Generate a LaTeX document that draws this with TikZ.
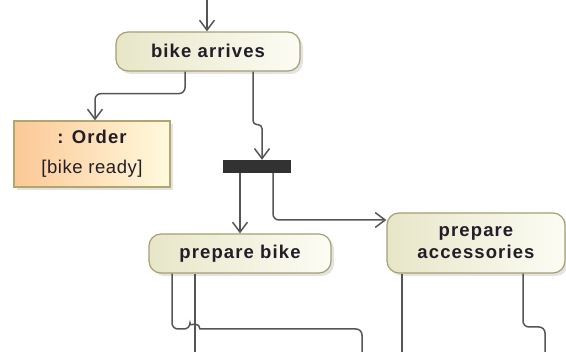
\documentclass[tikz,border=0pt]{standalone}
\usepackage{fontspec}
\setmainfont{Liberation Sans}
\newfontfamily\actfont[LetterSpace=6]{Liberation Sans}
\newfontfamily\guardfont[LetterSpace=3]{Liberation Sans}
\usetikzlibrary{arrows.meta,shadows}

\definecolor{actleft}{RGB}{232,230,200}
\definecolor{actright}{RGB}{252,252,244}
\definecolor{actborder}{RGB}{164,160,112}
\definecolor{objleft}{RGB}{252,200,150}
\definecolor{objright}{RGB}{255,250,222}
\definecolor{objborder}{RGB}{176,166,110}
\definecolor{labeltext}{RGB}{34,30,40}
\definecolor{flowline}{RGB}{85,85,85}
\definecolor{barfill}{RGB}{50,50,50}

\tikzset{
  actbox/.style={draw=actborder, line width=1.2pt, rounded corners=12pt,
    left color=actleft, right color=actright,
    drop shadow={shadow xshift=3pt, shadow yshift=-3pt, fill=black!22},
    inner sep=0pt, align=center, text=labeltext,
    font=\actfont\bfseries\fontsize{18.5}{22}\selectfont},
  objbox/.style={draw=objborder, line width=1.2pt,
    left color=objleft, right color=objright,
    drop shadow={shadow xshift=3pt, shadow yshift=-3pt, fill=black!22},
    inner sep=0pt, align=center, text=labeltext,
    font=\fontsize{18.5}{22}\selectfont,
    minimum width=156pt, minimum height=66pt},
  forkbar/.style={fill=barfill, draw=none, minimum width=68pt, minimum height=13pt, inner sep=0pt},
  flow/.style={draw=flowline, line width=1.5pt, rounded corners=6pt},
  flowarrow/.style={flow, -{Straight Barb[length=10pt,width=15pt]}}
}

\begin{document}
\begin{tikzpicture}[x=1pt,y=-1pt]
\useasboundingbox (0,0) rectangle (566,352);

% activity nodes
\node[actbox, minimum width=184pt, minimum height=39pt] (arrive) at (208,51.5) {\raisebox{2pt}{bike arrives}};
\node[objbox] (order) at (92,154)
  {{\actfont\bfseries : Order}\\[8pt]{\guardfont [bike ready]}};
\node[forkbar] (fork) at (257,166.5) {};
\node[actbox, minimum width=182pt, minimum height=39pt] (prepbike) at (240,253.5) {\raisebox{2pt}{prepare bike}};
\node[actbox, minimum width=178pt, minimum height=60pt] (prepacc) at (476,243) {prepare\\accessories};

% free ends of the flows
\coordinate (entry) at (207,0);
\coordinate (outA) at (362,352);
\coordinate (outB) at (195,352);
\coordinate (outC) at (402,352);
\coordinate (outD) at (545,352);

% flows
\draw[flowarrow] (entry) -- (entry |- arrive.north);
\draw[flowarrow] ([xshift=-23pt]arrive.south) -- ++(0,22) -| ([xshift=3pt]order.north);
\draw[flowarrow, rounded corners=4pt] ([xshift=45pt]arrive.south) -- ++(0,53) -| ([xshift=5pt]fork.north);
\draw[flowarrow] (fork.south -| prepbike.north) -- (prepbike.north);
\draw[flowarrow] ([xshift=16pt]fork.south) |- ([yshift=23pt]prepacc.west);

\draw[flow] ([xshift=-68pt]prepbike.south) -- (172,329) -- (190,329)
  [sharp corners] arc[start angle=180, end angle=0, radius=5pt]
  [rounded corners=6pt] -- (362,329) -- (outA);
\draw[flow] ([xshift=-45pt]prepbike.south) -- (outB);
\draw[flow] ([xshift=-74pt]prepacc.south) -- (outC);
\draw[flow] ([xshift=47pt]prepacc.south) -- (523,327) -- (545,327) -- (outD);
\end{tikzpicture}
\end{document}
